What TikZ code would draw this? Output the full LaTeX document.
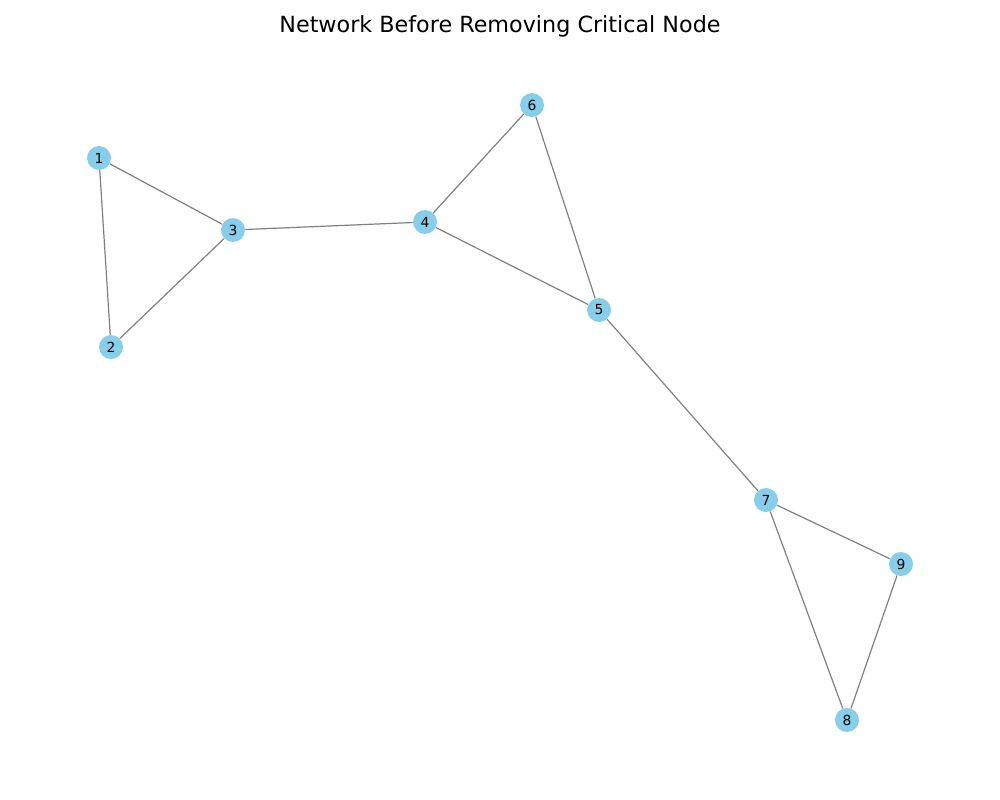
\documentclass[tikz,border=0pt]{standalone}
\usepackage{fontspec}
\setmainfont{DejaVu Sans}
\definecolor{skyblue}{HTML}{87CEEB}
\definecolor{edgegray}{HTML}{808080}
\begin{document}
\begin{tikzpicture}[x=0.75pt,y=-0.75pt,
  vertex/.style={circle,fill=skyblue,draw=none,minimum size=18pt,inner sep=0pt,font=\fontsize{10.4}{12}\selectfont},
  link/.style={draw=edgegray,line width=0.9pt}]
\useasboundingbox (0,0) rectangle (1000,800);
\node[font=\fontsize{16.7}{20}\selectfont] (title) at (500,26) {Network Before Removing Critical Node};
\node[vertex] (n1) at (99,158) {1};
\node[vertex] (n2) at (111,347) {2};
\node[vertex] (n3) at (233,230) {3};
\node[vertex] (n4) at (425,222) {4};
\node[vertex] (n5) at (599,310) {5};
\node[vertex] (n6) at (532,105) {6};
\node[vertex] (n7) at (766,500) {7};
\node[vertex] (n8) at (847,720) {8};
\node[vertex] (n9) at (901,564) {9};
\draw[link] (n1) -- (n2);
\draw[link] (n1) -- (n3);
\draw[link] (n2) -- (n3);
\draw[link] (n3) -- (n4);
\draw[link] (n4) -- (n6);
\draw[link] (n4) -- (n5);
\draw[link] (n6) -- (n5);
\draw[link] (n5) -- (n7);
\draw[link] (n7) -- (n9);
\draw[link] (n7) -- (n8);
\draw[link] (n9) -- (n8);
\end{tikzpicture}
\end{document}
